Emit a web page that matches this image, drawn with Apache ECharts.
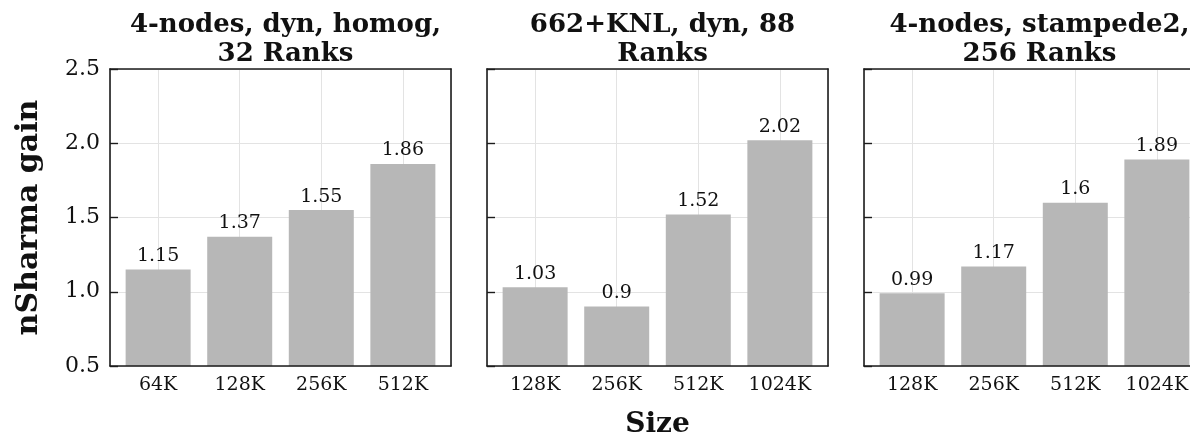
<!DOCTYPE html>
<html>
<head>
<meta charset="utf-8">
<script src="https://cdn.jsdelivr.net/npm/echarts@6/dist/echarts.min.js"></script>
<style>
html,body{margin:0;padding:0;background:#fff;overflow:hidden;}
#chart{width:1215px;height:444px;}
</style>
</head>
<body>
<div id="chart"></div>
<script>
const titles = ['4-nodes, dyn, homog,\n32 Ranks', '662+KNL, dyn, 88\nRanks', '4-nodes, stampede2,\n256 Ranks'];
const categories1 = ['64K', '128K', '256K', '512K'];
const values1 = [1.15, 1.37, 1.55, 1.86];
const categories2 = ['128K', '256K', '512K', '1024K'];
const values2 = [1.03, 0.9, 1.52, 2.02];
const categories3 = ['128K', '256K', '512K', '1024K'];
const values3 = [0.99, 1.17, 1.6, 1.89];
const yTicks = { min: 0.5, max: 2.5, interval: 0.5 };
const yName = 'nSharma gain';
const xName = 'Size';

const panels = [
  { cats: categories1, vals: values1 },
  { cats: categories2, vals: values2 },
  { cats: categories3, vals: values3 }
];
const gridLefts = [110, 487, 864];
const gridWidth = 341;
const gridTop = 69, gridHeight = 297;
const SERIF = '"DejaVu Serif", "Liberation Serif", serif';
const frameColor = '#1c1c1c';
const gridColor = '#e3e3e3';

const grid = [], xAxis = [], yAxis = [], series = [], title = [];
panels.forEach((p, i) => {
  grid.push({ left: gridLefts[i], top: gridTop, width: gridWidth, height: gridHeight, containLabel: false });
  title.push({
    text: titles[i], left: gridLefts[i] + gridWidth / 2, textAlign: 'center', top: 6,
    textStyle: { fontFamily: SERIF, fontWeight: 'bold', fontSize: 26, lineHeight: 29, color: '#111' }
  });
  const n = p.cats.length;
  const xmin = -0.59, xmax = (n - 1) + 0.59;
  xAxis.push({
    gridIndex: i, type: 'value', position: 'bottom', min: xmin, max: xmax, splitNumber: 4, z: 10,
    axisLine: { show: true, onZero: false, lineStyle: { color: frameColor, width: 1.6 } },
    axisTick: { show: false },
    splitLine: { show: false },
    axisLabel: {
      show: true, margin: 10, fontFamily: SERIF, fontSize: 19, color: '#111',
      showMinLabel: false, showMaxLabel: false,
      formatter: v => { const r = Math.round(v); return Math.abs(v - r) < 1e-6 && r >= 0 && r < n ? p.cats[r] : ''; }
    }
  });
  xAxis.push({
    gridIndex: i, type: 'value', position: 'top', min: xmin, max: xmax, splitNumber: 4,
    axisLine: { show: true, onZero: false, lineStyle: { color: frameColor, width: 1.6 } },
    axisTick: { show: false }, axisLabel: { show: false },
    splitLine: { show: true, lineStyle: { color: gridColor, width: 1 } }
  });
  yAxis.push({
    gridIndex: i, type: 'value', position: 'left', min: yTicks.min, max: yTicks.max, interval: yTicks.interval,
    axisLine: { show: true, onZero: false, lineStyle: { color: frameColor, width: 1.6 } },
    axisTick: { show: true, inside: true, length: 8, lineStyle: { color: frameColor, width: 1.4 } },
    splitLine: { show: true, lineStyle: { color: gridColor, width: 1 } },
    axisLabel: {
      show: i === 0, margin: 10, fontFamily: SERIF, fontSize: 22, color: '#111',
      formatter: v => v.toFixed(1)
    },
    name: i === 0 ? yName : '', nameLocation: 'middle', nameGap: 66, nameRotate: 90,
    nameTextStyle: { fontFamily: SERIF, fontWeight: 'bold', fontSize: 30, color: '#111' }
  });
  yAxis.push({
    gridIndex: i, type: 'value', position: 'right', min: yTicks.min, max: yTicks.max, interval: yTicks.interval,
    axisLine: { show: true, onZero: false, lineStyle: { color: frameColor, width: 1.6 } },
    axisTick: { show: false }, axisLabel: { show: false }, splitLine: { show: false }
  });
  series.push({
    type: 'bar', xAxisIndex: i * 2, yAxisIndex: i * 2, barWidth: 65,
    itemStyle: { color: '#b7b7b7' },
    data: p.vals.map((v, k) => [k, v]),
    label: {
      show: true, position: 'top', distance: 4, fontFamily: SERIF, fontSize: 19, color: '#111',
      formatter: prm => String(prm.value[1])
    },
    animation: false
  });
});

const chart = echarts.init(document.getElementById('chart'), null, { renderer: 'canvas' });
chart.setOption({
  animation: false,
  title, grid, xAxis, yAxis, series,
  graphic: [{
    type: 'text', x: gridLefts[1] + gridWidth / 2, y: 425,
    style: { text: xName, textAlign: 'center', textVerticalAlign: 'middle', font: 'bold 28px "DejaVu Serif", serif', fill: '#111' }
  }]
});
</script>
</body>
</html>
